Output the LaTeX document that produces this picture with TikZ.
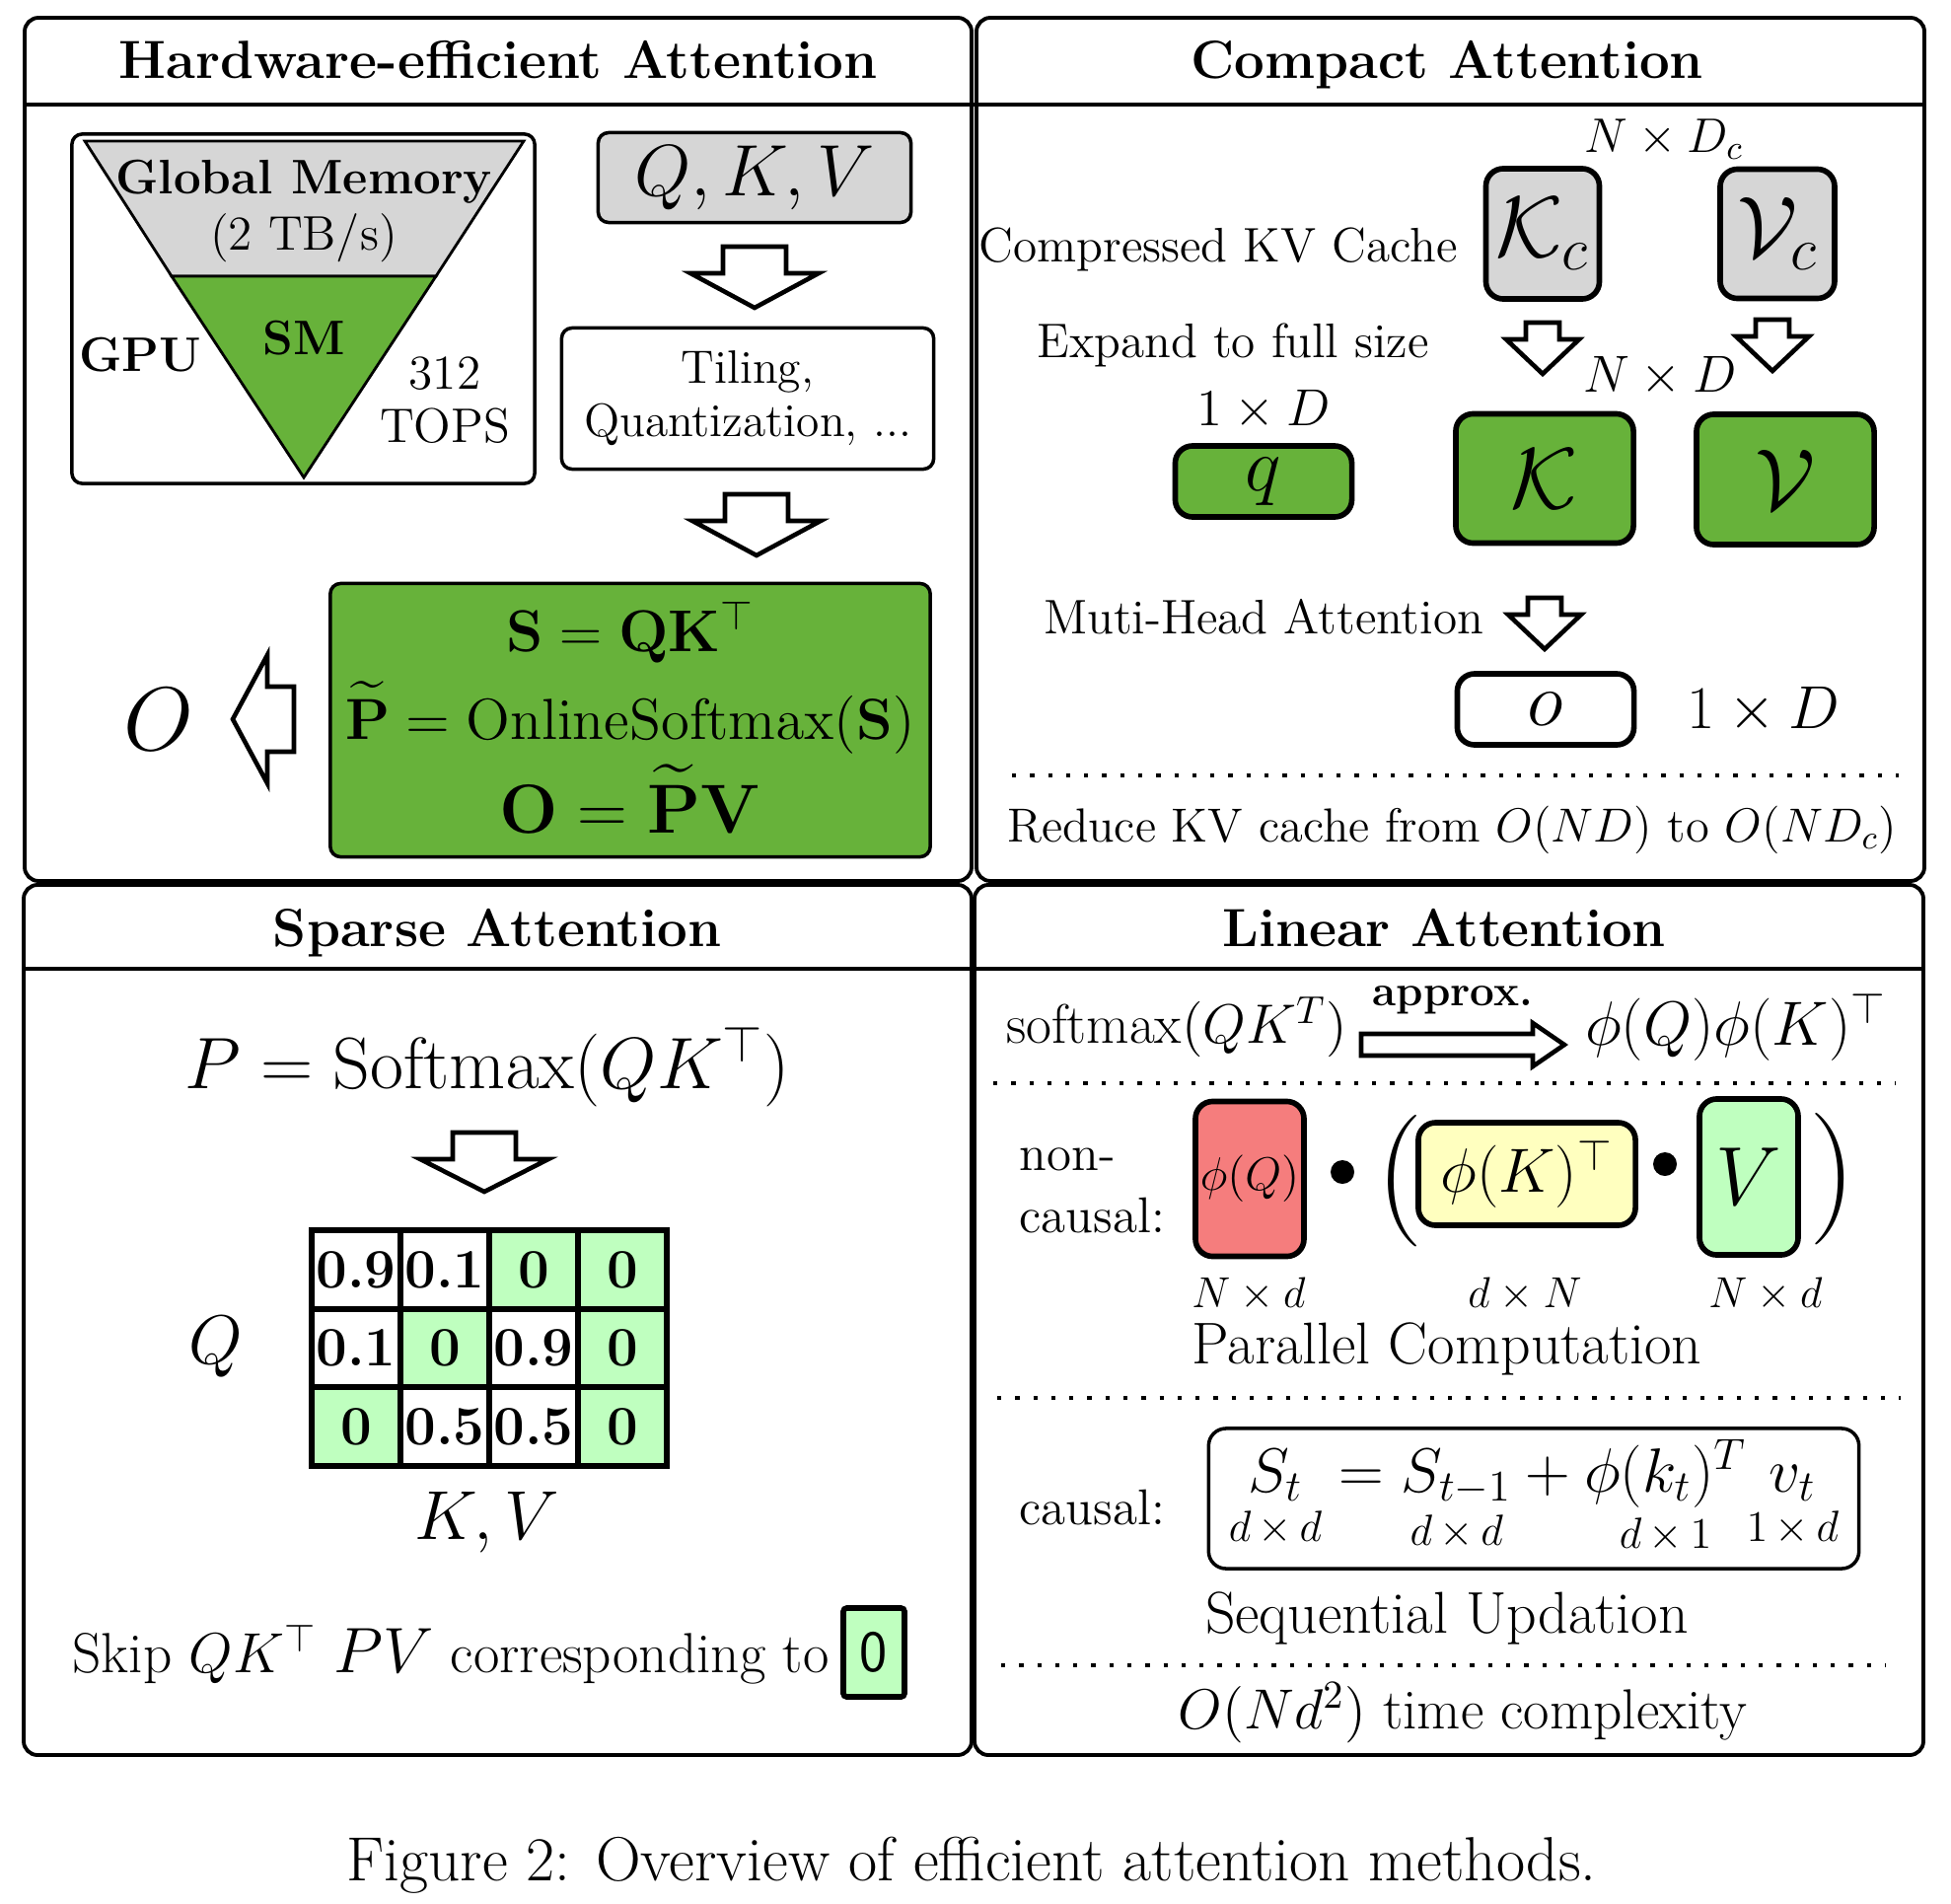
\RequirePackage{fix-cm}
\documentclass[tikz,border=0pt]{standalone}
\usepackage{amsmath}
\usepackage{tikz}
\usetikzlibrary{positioning,calc}

\definecolor{hwgreen}{RGB}{103,178,58}
\definecolor{memgray}{RGB}{214,214,214}
\definecolor{kvgreen}{RGB}{191,255,191}
\definecolor{phired}{RGB}{245,125,125}
\definecolor{phiyellow}{RGB}{255,255,191}

\newcommand{\fsz}[2]{\fontsize{#1}{#2}\selectfont}
\newcommand{\dimsz}[2]{#1\mkern3mu\times\mkern3mu#2}

\tikzset{
  panel/.style={draw, line width=1.1pt, rounded corners=4pt},
  ttl/.style={font=\fsz{15.5}{18}\bfseries, anchor=base},
  txt/.style={font=\fsz{14}{17}},
  thickbox/.style={draw, line width=1.6pt, rounded corners=5pt, inner sep=0pt},
  thinbox/.style={draw, line width=1pt, rounded corners=3pt, inner sep=0pt},
  cellbox/.style={draw, line width=1.8pt, minimum width=0.9cm, minimum height=0.795cm,
    inner sep=0pt, font=\fsz{16}{16}\bfseries},
  sep/.style={line width=0.9pt, dash pattern=on 1.2pt off 4pt},
  dot/.style={circle, fill, inner sep=0pt, minimum size=0.24cm},
  pics/hollow arrow/.style n args={4}{code={
    \draw[line width=1.3pt, fill=white] (-#1,0) -- (-#1,#2) -- (-#3,#2) -- (0,#2+#4)
      -- (#3,#2) -- (#1,#2) -- (#1,0) -- cycle;}}
}

\begin{document}
\begin{tikzpicture}[x=0.01cm, y=-0.01cm]
  \useasboundingbox (0,0) rectangle (1978,1930);

  % four panels
  \draw[panel] (25,18) rectangle (985,893);
  \draw[panel] (990,18) rectangle (1951,893);
  \draw[panel] (24,897) rectangle (985,1779);
  \draw[panel] (988,897) rectangle (1950,1779);
  \draw[line width=1.1pt] (25,106) -- (1951,106);
  \draw[line width=1.1pt] (24,982) -- (1950,982);

  \node[ttl] (hwtitle) at (505,79) {Hardware-efficient Attention};
  \node[ttl] (catitle) at (1467,79) {Compact Attention};
  \node[ttl] (satitle) at (504,959) {Sparse Attention};
  \node[ttl] (latitle) at (1464,959) {Linear Attention};

  % ---- hardware-efficient attention
  \node[thinbox, minimum width=4.69cm, minimum height=3.54cm] (gpubox) at (307.5,313) {};
  \draw[line width=0.8pt, fill=memgray] (86,143) -- (531,143) -- (442,280) -- (174,280) -- cycle;
  \draw[line width=0.8pt, fill=hwgreen] (174,280) -- (442,280) -- (308,484) -- cycle;
  \node[font=\fsz{14}{17}\bfseries] (gmem) at (308,184) {Global Memory};
  \node[txt] (bw) at (308,241) {(2 TB/s)};
  \node[font=\fsz{14}{17}\bfseries] (sm) at (308,343) {SM};
  \node[font=\fsz{14}{17}\bfseries] (gpu) at (142,360) {GPU};
  \node[txt] (tops1) at (451,379) {312};
  \node[txt] (tops2) at (451,432) {TOPS};

  \node[thinbox, fill=memgray, minimum width=3.17cm, minimum height=0.91cm,
    font=\fsz{21}{21}] (qkv) at (765,180) {$Q,K,V$};
  \pic at (765,250) {hollow arrow={32}{27}{65}{35}};
  \node[thinbox, minimum width=3.77cm, minimum height=1.43cm, align=center,
    font=\fsz{13.5}{15.4}] (tiling) at (758,404) {Tiling,\\Quantization, ...};
  \pic at (767,501) {hollow arrow={32}{27}{65}{35}};
  \node[thinbox, fill=hwgreen, minimum width=6.08cm, minimum height=2.77cm] (flash) at (639,730) {};
  \node[font=\fsz{17}{17}, anchor=base, inner sep=0pt] (eqs) at (639,660) {$\mathbf{S}=\mathbf{Q}\mathbf{K}^\top$};
  \node[font=\fsz{16.7}{17}, anchor=base, inner sep=0pt] (eqp) at (639,749)
    {$\widetilde{\mathbf{P}}=\mathrm{OnlineSoftmax}(\mathbf{S})$};
  \node[font=\fsz{20}{20}, anchor=base, inner sep=0pt] (eqo) at (639,844) {$\mathbf{O}=\widetilde{\mathbf{P}}\mathbf{V}$};
  \node[font=\fsz{26}{26}] (out) at (161,729) {$O$};
  \pic[rotate=-90] at (298,729) {hollow arrow={33}{27}{65}{35}};

  % ---- compact attention
  \node[font=\fsz{14}{14}] (ndc) at (1687,141) {$N\times D_c$};
  \node[thickbox, fill=memgray, minimum width=1.15cm, minimum height=1.32cm,
    font=\fsz{25}{25}] (kc) at (1564,237) {$\mathcal{K}_c$};
  \node[thickbox, fill=memgray, minimum width=1.16cm, minimum height=1.31cm,
    font=\fsz{25}{25}] (vc) at (1802,237) {$\mathcal{V}_c$};
  \node[txt] (cache) at (1235,253) {Compressed KV Cache};
  \pic at (1564,327) {hollow arrow={17}{17}{37}{35}};
  \pic at (1797,324) {hollow arrow={17}{17}{37}{35}};
  \node[txt] (expand) at (1250,350) {Expand to full size};
  \node[font=\fsz{15}{15}] (nd) at (1683,382) {$N\times D$};
  \node[font=\fsz{15}{15}] (qd) at (1281,416) {$1\times D$};
  \node[thickbox, fill=hwgreen, minimum width=1.79cm, minimum height=0.72cm,
    font=\fsz{22}{22}] (q) at (1281,488) {$q$};
  \node[thickbox, fill=hwgreen, minimum width=1.8cm, minimum height=1.31cm,
    font=\fsz{25}{25}] (k) at (1566,485) {$\mathcal{K}$};
  \node[thickbox, fill=hwgreen, minimum width=1.8cm, minimum height=1.32cm,
    font=\fsz{25}{25}] (v) at (1810,486) {$\mathcal{V}$};
  \node[txt] (mha) at (1281,625) {Muti-Head Attention};
  \pic at (1566,606) {hollow arrow={17}{17}{37}{35}};
  \node[thickbox, minimum width=1.79cm, minimum height=0.72cm,
    font=\fsz{22}{22}] (o) at (1567,719) {$o$};
  \node[font=\fsz{17.5}{17.5}] (od) at (1788,720) {$1\times D$};
  \draw[sep] (1026,786) -- (1925,786);
  \node[font=\fsz{13.8}{16}] (reduce) at (1472,841) {Reduce KV cache from $O(ND)$ to $O(ND_c)$};

  % ---- sparse attention
  \node[font=\fsz{21}{21}] (softmax) at (494,1081) {$P=\mathrm{Softmax}(QK^\top)$};
  \pic at (491,1148) {hollow arrow={32}{27}{65}{33}};
  \foreach \v/\c [count=\i from 0] in {0.9/white,0.1/white,0/kvgreen,0/kvgreen,
      0.1/white,0/kvgreen,0.9/white,0/kvgreen,0/kvgreen,0.5/white,0.5/white,0/kvgreen}{
    \pgfmathtruncatemacro\col{mod(\i,4)}
    \pgfmathtruncatemacro\row{\i/4}
    \node[cellbox, fill=\c] (c\row\col) at ({361+\col*90},{1287+\row*79.5}) {\v};
  }
  \node[font=\fsz{20}{20}] (qlab) at (219,1365) {$Q$};
  \node[font=\fsz{20}{20}] (kvlab) at (494,1543) {$K,V$};
  \node[font=\fsz{16.3}{16.3}, anchor=west, inner sep=0pt] (skip) at (73,1677)
    {Skip $QK^\top$ {\fsz{18.5}{18.5}$PV$} corresponding to};
  \node[draw, line width=1.6pt, rounded corners=1pt, fill=kvgreen, inner sep=0pt,
    minimum width=0.62cm, minimum height=0.9cm, font=\fsz{17}{17}\sffamily] (zero) at (886,1675) {0};

  % ---- linear attention
  \node[font=\fsz{16}{16}] (smx) at (1193,1041) {softmax$(QK^T)$};
  \node[font=\fsz{12.5}{12.5}\bfseries] (approx) at (1473,1014) {approx.};
  \pic[rotate=90] at (1380,1059) {hollow arrow={11}{174}{22}{32}};
  \node[font=\fsz{18}{18}] (phiqk) at (1760,1041) {$\phi(Q)\phi(K)^\top$};
  \draw[sep] (1007,1098) -- (1922,1098);

  \node[font=\fsz{14.5}{18}, align=left, anchor=west, inner sep=0pt] (noncausal) at (1033,1207) {non-\\causal:};
  \node[thickbox, fill=phired, minimum width=1.1cm, minimum height=1.57cm,
    font=\fsz{13.5}{13.5}] (phiq) at (1267,1195) {$\phi(Q)$};
  \node[dot] (dot1) at (1361,1188) {};
  \node[font=\fsz{38}{38}, inner sep=0pt] (lpar) at (1419,1197) {(};
  \node[thickbox, fill=phiyellow, minimum width=2.2cm, minimum height=1.04cm,
    font=\fsz{18}{18}] (phik) at (1548,1190) {$\phi(K)^\top$};
  \node[dot] (dot2) at (1688,1180) {};
  \node[thickbox, fill=kvgreen, minimum width=1.0cm, minimum height=1.58cm,
    font=\fsz{24}{24}] (vl) at (1773,1193) {$V$};
  \node[font=\fsz{38}{38}, inner sep=0pt] (rpar) at (1858,1195) {)};
  \node[font=\fsz{12.5}{12.5}] (dq) at (1266,1312) {$N\times d$};
  \node[font=\fsz{12.5}{12.5}] (dk) at (1546,1312) {$d\times N$};
  \node[font=\fsz{12.5}{12.5}] (dv) at (1790,1312) {$N\times d$};
  \node[font=\fsz{17}{17}] (parallel) at (1467,1367) {Parallel Computation};
  \draw[sep] (1011,1417) -- (1927,1417);

  \node[font=\fsz{14.5}{18}, anchor=west, inner sep=0pt] (causal) at (1033,1528) {causal:};
  \node[thinbox, rounded corners=5pt, minimum width=6.59cm, minimum height=1.42cm,
    font=\fsz{18}{18}] (seq) at (1555,1519)
    {$\underset{\dimsz{d}{d}}{S_t} = \underset{\dimsz{d}{d}}{S_{t-1}} + \underset{\dimsz{d}{1}}{\phi(k_t)^T}\underset{\dimsz{1}{d}}{v_t}$};
  \node[font=\fsz{17}{17}] (sequential) at (1467,1640) {Sequential Updation};
  \draw[sep] (1015,1688) -- (1912,1688);
  \node[font=\fsz{16.3}{16.3}] (cplx) at (1483,1736) {$O(Nd^2)$ time complexity};

  % caption
  \node[font=\fsz{18}{18}] (caption) at (985,1891) {Figure 2: Overview of efficient attention methods.};
\end{tikzpicture}
\end{document}
